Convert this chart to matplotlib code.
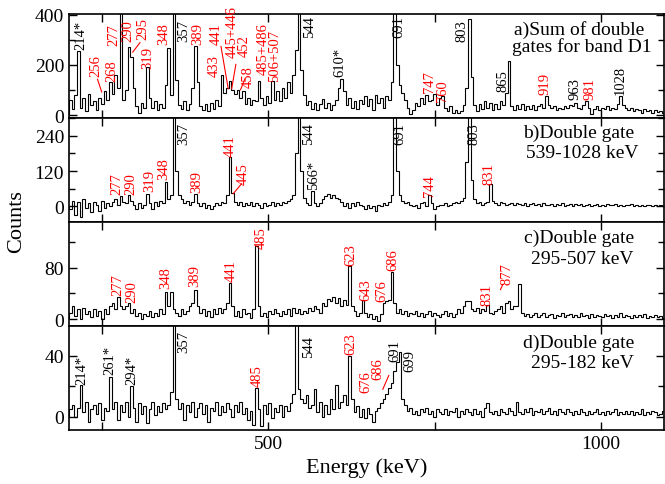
import numpy as np
import matplotlib.pyplot as plt
from matplotlib.ticker import FixedLocator, MultipleLocator

plt.rcParams['font.family'] = 'Liberation Serif'

# 4 keV bins, 200 - 1100 keV
edges = np.arange(200, 1101, 4)

counts_a = [
    60, 25, 80, 255, 30, 70, 15, 85, 40, 55,        # 200
    20, 70, 45, 95, 60, 130, 85, 160, 110, 650,     # 240
    60, 100, 270, 230, 110, 35, 10, 50, 30, 190,    # 280
    70, 30, 55, 20, 45, 30, 120, 268, 80, 750,      # 320
    140, 40, 25, 55, 20, 45, 110, 275, 130, 35,     # 360
    20, 45, 15, 50, 25, 60, 35, 160, 90, 110,       # 400
    135, 100, 85, 100, 70, 95, 45, 70, 40, 60,      # 440
    55, 136, 70, 40, 75, 50, 136, 60, 95, 55,       # 480
    110, 70, 130, 90, 160, 260, 820, 180, 80, 40,   # 520
    55, 25, 50, 20, 45, 65, 30, 50, 20, 40,         # 560
    60, 110, 143, 95, 40, 70, 30, 55, 25, 60,       # 600
    45, 75, 35, 65, 20, 80, 50, 70, 30, 75,         # 640
    60, 130, 900, 200, 120, 90, 60, 30, 5, 20,      # 680
    50, 35, 70, 45, 80, 55, 60, 86, 40, 70,         # 720
    77, 30, 15, 35, 10, 20, 8, 15, 40, 110,         # 760
    385, 150, 40, 15, 45, 25, 55, 30, 50, 20,       # 800
    45, 25, 55, 40, 90, 215, 35, 20, 40, 25,        # 840
    45, 20, 35, 25, 40, 20, 35, 45, 30, 77,         # 880
    40, 30, 35, 20, 30, 25, 35, 30, 40, 35,         # 920
    50, 30, 25, 40, 57, 30, 5, 25, 35, 20,          # 960
    30, 25, 35, 20, 30, 25, 45, 77, 40, 30,         # 1000
    20, 30, 15, 25, 20, 10, 25, 15, 20, 10,         # 1040
    20, 12, 18, 8, 15]                              # 1080

counts_b = [
    -10, 20, -30, 15, -35, 25, -5, 10, -20, 15,
    5, -15, 20, -5, 10, 0, 15, 25, 5, 35,
    15, 10, 37, 20, 5, -10, 10, -5, 5, 43,
    10, -10, 15, 0, 20, 10, 82, 25, 40, 900,
    120, 40, 25, 10, 20, 5, 15, 43, 10, 0,
    10, -5, 5, -10, 0, 10, 5, 15, 10, 40,
    167, 45, 15, 5, 15, 0, 10, 5, 15, 0,
    10, 5, -5, 10, 0, 5, 15, 0, 10, 5,
    15, 10, 20, 25, 40, 180, 950, 120, 30, 10,
    5, 52, 10, 0, 10, 25, 35, 43, 30, 40,
    30, 25, 15, 0, 10, -5, 10, 0, 15, 5,
    0, -10, 5, -5, 0, -15, 5, 0, 10, 5,
    15, 40, 1000, 120, 40, 20, 10, 15, 5, 0,
    5, -5, 10, 15, 0, 37, 10, -10, 0, 5,
    5, 10, 0, 5, 10, 15, 10, 20, 30, 150,
    1000, 90, 25, 10, 15, 5, 10, 15, 77, 20,
    10, 5, 15, 10, 5, 8, 12, 5, 10, 8,
    5, 10, 3, 8, 12, 5, 7, 3, 10, 6,
    4, 9, 2, 7, 5, 10, 3, 6, 8, 2,
    7, 4, 9, 3, 6, 8, 2, 5, 7, 3,
    6, 2, 8, 4, 5, 7, 1, 6, 3, 5,
    4, 7, 2, 5, 3, 6, 1, 4, 6, 2,
    5, 3, 6, 2, 4]

counts_c = [
    10, 20, 5, 15, 0, 18, 8, 12, 3, 15,
    5, 12, 0, 15, 8, 20, 25, 15, 35, 20,
    15, 20, 25, 10, 15, 5, 10, 0, 8, 5,
    12, 3, 10, 5, 15, 8, 42, 20, 43, 15,
    10, 5, 15, 8, 12, 20, 25, 46, 20, 10,
    15, 5, 12, 3, 15, 8, 18, 10, 15, 25,
    56, 20, 5, 12, 3, 15, 8, 10, 2, 15,
    114, 20, 5, 10, 3, 12, 8, 15, 10, 5,
    12, 8, 15, 5, 18, 10, 15, 8, 12, 10,
    18, 12, 20, 15, 10, 25, 20, 32, 28, 35,
    25, 33, 20, 30, 22, 83, 20, 12, 5, 10,
    30, 10, 3, 8, 0, 5, -3, 8, 25, 28,
    30, 73, 25, 10, 15, 8, 12, 5, 10, 8,
    12, 5, 10, 3, 8, 12, 5, 10, 6, 3,
    8, 12, 5, 10, 3, 8, 15, 10, 20, 28,
    28, 15, 12, 18, 10, 15, 12, 22, 10, 8,
    12, 15, 20, 10, 25, 28, 15, 20, 20, 54,
    10, 5, 8, 3, 7, 10, 4, 6, 9, 3,
    6, 8, 2, 7, 5, 9, 3, 6, 8, 4,
    7, 3, 9, 5, 6, 2, 8, 4, 7, 5,
    3, 8, 5, 6, 2, 7, 4, 9, 3, 6,
    5, 2, 7, 4, 6, 3, 8, 2, 5, 4,
    6, 3, 5, 2, 7]

counts_d = [
    5, 8, 0, 6, 21, 3, 10, -3, 5, 8,
    2, 9, -2, 6, 4, 26, 5, 10, -2, 8,
    3, 10, 0, 20, 6, -3, 9, 2, 7, -4,
    5, 10, 1, 7, 3, 9, 5, 8, 16, 120,
    12, 5, 9, -2, 8, 3, 10, 0, 6, 9,
    2, 8, -3, 6, 4, 10, 1, 7, 3, 9,
    5, 0, 8, 3, 10, 2, 6, -2, 4, -5,
    19, 5, -6, 8, 2, 9, -1, 6, 3, 8,
    0, 7, 4, 9, 15, 150, 18, 12, 9, 14,
    6, 8, 18, 3, 10, 0, 8, 2, 12, 5,
    21, 6, 10, 14, 8, 40, 12, 3, 7, 0,
    5, -1, 6, 2, -3, 4, 6, 9, 12, 15,
    19, 22, 30, 36, 42, 12, 8, 4, 6, 2,
    4, 1, 5, 3, 6, 2, 4, 0, 5, 3,
    2, 5, 1, 4, 3, 6, 0, 4, 2, 5,
    3, 1, 5, 2, 4, 0, 6, 9, 3, 2,
    4, 1, 5, 3, 2, 6, 4, 1, 10, 3,
    2, 5, 3, 6, 1, 4, 3, 5, 2, 4,
    6, 2, 4, 1, 5, 3, 2, 5, 3, 1,
    4, 2, 5, 3, 1, 4, 2, 3, 5, 2,
    3, 1, 4, 2, 3, 5, 1, 3, 2, 4,
    2, 4, 1, 3, 2, 5, 1, 3, 2, 4,
    3, 1, 2, 4, 2]

# peak labels: (text, energy, counts, colour)
R, K = 'red', 'black'
labels_a = [('214*', 217.6, 263, K), ('256', 240.6, 155, R), ('268', 264.5, 136, R),
            ('277', 266.9, 281, R), ('290', 289.2, 295, R), ('295', 311.7, 303, R),
            ('319', 319.2, 186, R), ('348', 342.9, 283, R), ('357', 372.9, 295, K),
            ('389', 394.0, 283, R), ('433', 418.0, 156, R), ('441', 422.0, 283, R),
            ('445+446', 445.6, 232, R), ('452', 464.0, 236, R), ('458', 470.0, 111, R),
            ('485+486', 492.2, 165, R), ('506+507', 509.8, 137, R), ('544', 561.4, 311, K),
            ('610*', 607.5, 157, K), ('691', 696.7, 311, K), ('747', 742.9, 93, R),
            ('760', 761.9, 58, R), ('803', 790.5, 295, K), ('865', 853.0, 97, K),
            ('919', 915.8, 85, R), ('963', 960.9, 65, K), ('981', 983.5, 65, R),
            ('1028', 1028.6, 85, K)]
labels_b = [('277', 272.6, 43, R), ('290', 292.8, 43, R), ('319', 320.8, 53, R),
            ('348', 341.8, 94, R), ('357', 372.9, 212, K), ('389', 392.0, 50, R),
            ('441', 442.0, 171, R), ('445', 462.0, 77, R), ('544', 559.8, 212, K),
            ('566*', 567.4, 60, K), ('691', 697.7, 212, K), ('744', 742.9, 36, R),
            ('803', 809.5, 212, K), ('831', 832.0, 77, R)]
labels_c = [('277', 274.1, 38, R), ('290', 294.3, 26, R), ('348', 345.9, 49, R),
            ('389', 389.5, 51, R), ('441', 444.7, 59, R), ('485', 489.8, 111, R),
            ('623', 623.3, 85, R), ('643', 646.6, 30, R), ('676', 670.2, 28, R),
            ('686', 687.7, 77, R), ('831', 829.0, 22, R), ('877', 858.6, 54, R)]
labels_d = [('214*', 219.1, 21.5, K), ('261*', 261.7, 28, K), ('294*', 294.3, 21.5, K),
            ('357', 372.9, 42, K), ('485', 483.2, 20, R), ('544', 559.8, 39, K),
            ('623', 624.0, 41, R), ('676', 646.6, 16, R), ('686', 665.0, 25, R),
            ('691', 690.2, 36.5, K), ('699', 712.8, 30, K)]

# leader lines: ((E1, c1), (E2, c2))
leaders_a = [((249.2, 92), (242.9, 143)), ((295.8, 251), (306.8, 289)),
             ((439.5, 105), (428.6, 274)), ((444.7, 105), (451.0, 202)),
             ((458.0, 101), (465.0, 147))]
leaders_b = [((447.0, 43), (459.6, 77))]
leaders_c = [((849.0, 46), (852.6, 54))]
leaders_d = [((672.0, 18), (681.0, 27))]

titles = [('a)Sum of double', 'gates for band D1'),
          ('b)Double gate', '539-1028 keV'),
          ('c)Double gate', '295-507 keV'),
          ('d)Double gate', '295-182 keV')]

ylims = [(-10, 405), (-52, 301), (-10.5, 151.6), (-8.5, 59.3)]
ymajor = [200, 120, 80, 40]

W, H = 665, 485
fig = plt.figure(figsize=(W / 100, H / 100), dpi=100)

top_px, bot_px = 14.5, 431
ph = (bot_px - top_px) / 4
left_px, right_px = 69, 664

all_counts = [counts_a, counts_b, counts_c, counts_d]
all_labels = [labels_a, labels_b, labels_c, labels_d]
all_leaders = [leaders_a, leaders_b, leaders_c, leaders_d]
title_pos = [(30, 47), (133, 153), (238, 259), (343, 364)]

for k in range(4):
    y0 = top_px + ph * (k + 1)
    ax = fig.add_axes([left_px / W, 1 - y0 / H, (right_px - left_px) / W, ph / H])
    ax.stairs(all_counts[k], edges, color='black', lw=0.8)
    ax.set_xlim(200, 1095)
    ax.set_ylim(*ylims[k])
    ax.xaxis.set_major_locator(FixedLocator([250, 500, 750, 1000]))
    ax.yaxis.set_major_locator(MultipleLocator(ymajor[k]))
    ax.yaxis.set_minor_locator(MultipleLocator(ymajor[k] / 2))
    ax.tick_params(which='both', direction='in', top=True, right=True,
                   labelsize=14, width=1)
    ax.tick_params(which='major', length=6)
    ax.tick_params(which='minor', length=4)
    for s in ax.spines.values():
        s.set_linewidth(1.2)
    if k < 3:
        ax.set_xticklabels([])
    else:
        ax.set_xticklabels(['', '500', '', '1000'])
        ax.set_xlabel('Energy (keV)', fontsize=16, labelpad=4)

    for txt, e, c, col in all_labels[k]:
        ax.text(e, c, txt, rotation=90, ha='center', va='bottom', color=col,
                fontsize=10.5)
    for (e1, c1), (e2, c2) in all_leaders[k]:
        ax.plot([e1, e2], [c1, c2], color='red', lw=0.8)

    l1, l2 = titles[k]
    ya, yb = title_pos[k]
    fig.text(579 / W, 1 - ya / H, l1, ha='center', va='center', fontsize=14)
    fig.text(582 / W, 1 - yb / H, l2, ha='center', va='center', fontsize=14)

fig.text(17 / W, 1 - 222 / H, 'Counts', rotation=90, ha='center', va='center',
         fontsize=16)

fig.savefig('out.png', dpi=100)
